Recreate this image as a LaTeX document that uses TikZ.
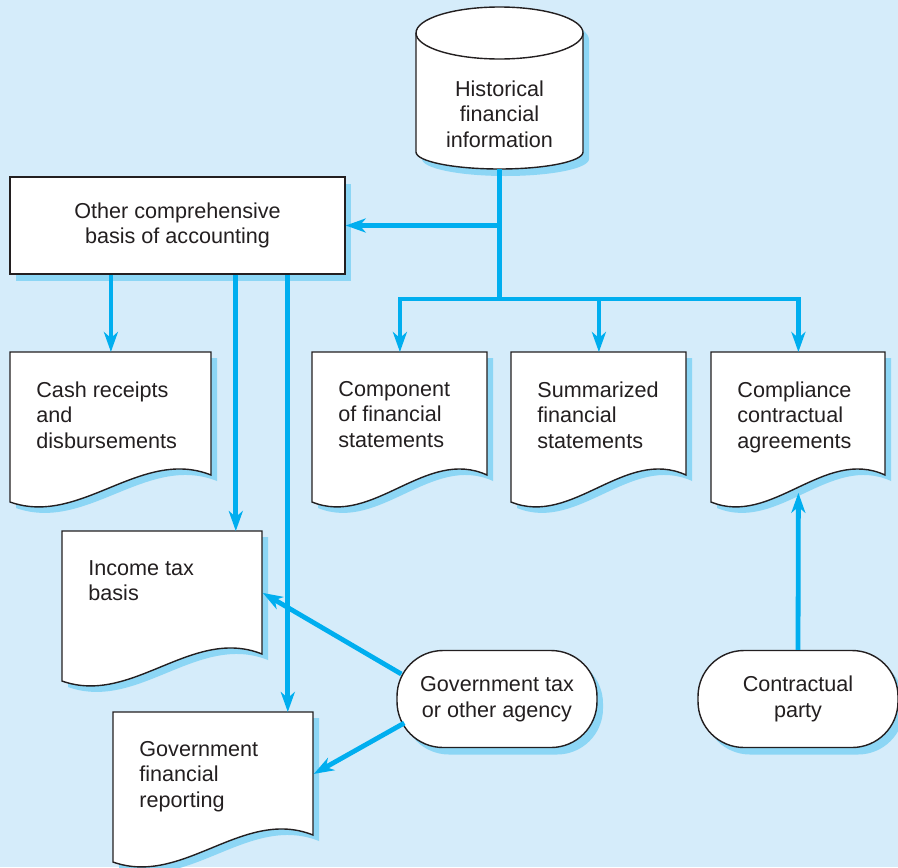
\documentclass[tikz,border=0pt]{standalone}
\usepackage{fontspec}
\setmainfont{Liberation Sans}
\usetikzlibrary{arrows.meta, shadows}

\definecolor{paleblue}{RGB}{213,236,250}
\definecolor{flowcyan}{RGB}{0,174,239}
\definecolor{shadeblue}{RGB}{140,214,245}
\definecolor{ink}{RGB}{35,31,32}

\tikzset{
  every node/.style={font=\fontsize{10.8}{12.75}\selectfont, text=ink},
  flow/.style={line width=2.4pt, flowcyan, -{Stealth[length=10pt, width=7pt, inset=3pt]}},
  flowline/.style={line width=2.4pt, flowcyan},
  boxshadow/.style={drop shadow={shadow xshift=3pt, shadow yshift=-3.5pt, fill=shadeblue, opacity=1}},
  chartbox/.style={draw=ink, line width=0.7pt, fill=white, align=center, boxshadow},
  docframe/.style={inner sep=0pt, draw=none},
  doclabel/.style={inner sep=0pt, align=left}
}

% document symbol: name, left, top, width (px), text
\newcommand{\docnode}[5]{%
  \fill[shadeblue] (#2+6,#3+6) -- ++(#4,0) -- ++(0,123)
    .. controls +({-0.35*#4},-28) and +({0.35*#4},25) .. ++(-#4,27) -- cycle;
  \filldraw[draw=ink, line width=0.7pt, fill=white] (#2,#3) -- ++(#4,0) -- ++(0,123)
    .. controls +({-0.35*#4},-28) and +({0.35*#4},25) .. ++(-#4,27) -- cycle;
  \node[docframe, minimum width=#4*0.5pt, minimum height=61.5pt, anchor=north west] (#1) at (#2,#3) {};
  \node[doclabel, anchor=north west] (#1-txt) at (#2+26,#3+29) {#5};
}

\begin{document}
\begin{tikzpicture}[x=0.5pt, y=-0.5pt]

  % background
  \fill[paleblue] (0,0) rectangle (898,867);
  \useasboundingbox (0,0) rectangle (898,867);

  % source data (drum)
  \fill[shadeblue] (422,40) -- (422,159) arc[start angle=180, end angle=0, x radius=83.5, y radius=17]
    -- (589,40) arc[start angle=0, end angle=-180, x radius=83.5, y radius=26] -- cycle;
  \filldraw[draw=ink, line width=0.7pt, fill=white] (416,33) -- (416,152)
    arc[start angle=180, end angle=0, x radius=83.5, y radius=17]
    -- (583,33) arc[start angle=0, end angle=-180, x radius=83.5, y radius=26] -- cycle;
  \draw[ink, line width=0.7pt] (416,33) arc[start angle=180, end angle=0, x radius=83.5, y radius=26];
  \node[align=center] (hist) at (499.5,114) {Historical\\financial\\information};
  \coordinate (histbase) at (499.5,169);

  \node[chartbox, rectangle, minimum width=167.5pt, minimum height=48.5pt] (ocba) at (177.5,225.5)
        {Other comprehensive\\basis of accounting};

  % reports
  \docnode{cash}{10}{352}{201}{Cash receipts\\and\\disbursements}
  \docnode{compo}{312}{352}{175}{Component\\of financial\\statements}
  \docnode{summ}{511}{352}{175}{Summarized\\financial\\statements}
  \docnode{compl}{711}{352}{174}{Compliance\\contractual\\agreements}
  \docnode{income}{62}{531}{200}{Income tax\\basis}
  \docnode{govrep}{113}{712}{200}{Government\\financial\\reporting}

  % outside parties
  \node[chartbox, rectangle, rounded corners=23pt, minimum width=100pt, minimum height=48.5pt] (govt) at (497,699)
        {Government tax\\or other agency};
  \node[chartbox, rectangle, rounded corners=23pt, minimum width=100pt, minimum height=48.5pt] (party) at (798,699)
        {Contractual\\party};

  % connectors
  \coordinate (bus) at (499.5,299);
  \draw[flowline] (histbase) -- (histbase |- bus);
  \draw[flow] (histbase |- ocba.east) -- (ocba.east);
  \draw[flow] (histbase |- bus) -| (compo.north);
  \draw[flow] (histbase |- bus) -| (compl.north);
  \draw[flow] (bus -| summ.north) -- (summ.north);

  \draw[flow] (cash.north |- ocba.south) -- (cash.north);
  \draw[flow] ([xshift=-13.5pt]ocba.south -| income.north east) -- ([xshift=-13.5pt]income.north east);
  \draw[flow] ([xshift=-13pt]ocba.south -| govrep.north east) -- ([xshift=-13pt]govrep.north east);

  \draw[flow] ([shift={(5,-25)}]govt.west) -- (income.east);
  \draw[flow] ([shift={(8,24)}]govt.west) -- (govrep.east);
  \draw[flow] (party.north) -- ([shift={(0,17)}]compl.south);

\end{tikzpicture}
\end{document}
